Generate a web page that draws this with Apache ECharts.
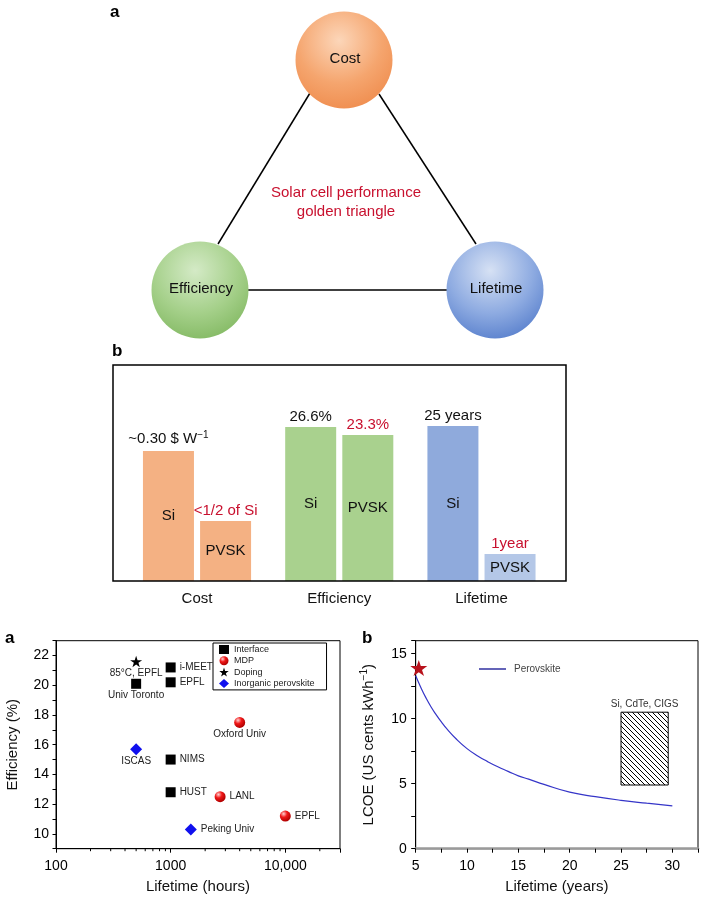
<!DOCTYPE html>
<html><head><meta charset="utf-8">
<script src="https://cdn.jsdelivr.net/npm/echarts@6/dist/echarts.min.js"></script>
<style>html,body{margin:0;padding:0;background:#fff}#c{width:701px;height:898px}</style>
</head><body><div id="c"></div>
<script>
// ---------------- data ----------------
const triangleNodes = ['Cost', 'Efficiency', 'Lifetime'];
const triangleCaption = ['Solar cell performance', 'golden triangle'];

const barCategories = ['Cost', 'Efficiency', 'Lifetime'];
const siHeights = [60.2, 71.3, 71.8];      // relative bar heights (schematic, no value axis)
const pvskHeights = [27.8, 67.6, 12.5];
const siInside = ['Si', 'Si', 'Si'];
const pvskInside = ['PVSK', 'PVSK', 'PVSK'];
const siTopLabels = ['~0.30 $ W{sup|\u22121}', '26.6%', '25 years'];
const pvskTopLabels = ['<1/2 of Si', '23.3%', '1year'];

const interfaceHours = [500, 1000, 1000, 1000, 1000];
const interfaceEff = [20.1, 21.2, 20.2, 15.0, 12.8];
const interfaceNames = ['Univ Toronto', 'i-MEET', 'EPFL', 'NIMS', 'HUST'];
const mdpHours = [4000, 2700, 10000];
const mdpEff = [17.5, 12.5, 11.2];
const mdpNames = ['Oxford Univ', 'LANL', 'EPFL'];
const dopingHours = [500];
const dopingEff = [21.6];
const dopingNames = ['85\u00b0C, EPFL'];
const inorgHours = [500, 1500];
const inorgEff = [15.7, 10.3];
const inorgNames = ['ISCAS', 'Peking Univ'];
const hoursTickLabels = {100: '100', 1000: '1000', 10000: '10,000'};
const hoursMinorTicks = [200, 300, 400, 500, 600, 700, 800, 900, 2000, 3000, 4000, 5000, 6000, 7000, 8000, 9000, 20000];

const lcoeYears = [5, 5.5, 6, 6.5, 7, 7.5, 8, 9, 10, 11, 12, 13, 14, 15, 16, 17.5, 20, 22.5, 25, 27.5, 30];
const lcoeValues = [13.3, 12.4, 11.6, 10.9, 10.3, 9.75, 9.25, 8.4, 7.7, 7.15, 6.7, 6.3, 5.95, 5.6, 5.35, 4.95, 4.35, 4.0, 3.72, 3.5, 3.3];
const starYear = [5.3];
const starLcoe = [13.9];
const incumbentRange = [[25, 29.6, 4.9, 10.5]];   // [yearFrom, yearTo, lcoeLow, lcoeHigh]
const incumbentName = 'Si, CdTe, CIGS';

// ---------------- style ----------------
const FONT = 'Liberation Sans, Arial, sans-serif';
const RED = '#c8102e';
const EFF_MIN = 9, EFF_MAX = 23;
const labelBelow = ['Univ Toronto', 'Oxford Univ', '85\u00b0C, EPFL', 'ISCAS'];
const siColors = ['#f4b183', '#a9d18e', '#8faadc'];
const pvskColors = ['#f4b183', '#a9d18e', '#b4c7e7'];
const STAR = 'path://M50,0L61.2,34.5L97.6,34.5L68.2,55.9L79.4,90.5L50,69.1L20.6,90.5L31.8,55.9L2.4,34.5L38.8,34.5Z';

const cv = document.createElement('canvas');
cv.width = 10; cv.height = 10;
const cx = cv.getContext('2d');
cx.strokeStyle = '#000'; cx.lineWidth = 1;
[-10, -5, 0, 5, 10].forEach(k => { cx.beginPath(); cx.moveTo(0, k); cx.lineTo(10, k + 10); cx.stroke(); });
const hatch = {image: cv, repeat: 'repeat'};

function pts(h, e, n) {
  return h.map((v, i) => ({
    value: [v, e[i], n[i]],
    label: labelBelow.includes(n[i]) ? {position: 'bottom', distance: 1} : {position: 'right', distance: 4}
  }));
}
const scatterLabel = {show: true, formatter: p => p.value[2], fontSize: 10, color: '#222', fontFamily: FONT};

function rg(c0, c1, c2) {
  return new echarts.graphic.RadialGradient(0.45, 0.3, 0.8, [
    {offset: 0, color: c0}, {offset: 0.55, color: c1}, {offset: 1, color: c2}]);
}
const nodePos = [[344, 60], [200, 290], [495, 290]];
const nodeFill = [rg('#fcd6b9', '#f5a56e', '#ee8848'), rg('#d4eac6', '#a5d08a', '#7db55c'), rg('#d6e1f4', '#8eabe1', '#4f78c9')];

const graphics = [
  {type: 'line', shape: {x1: 310, y1: 93, x2: 218, y2: 244}, style: {stroke: '#000', lineWidth: 1.5}, z: 1},
  {type: 'line', shape: {x1: 379, y1: 94, x2: 476, y2: 244}, style: {stroke: '#000', lineWidth: 1.5}, z: 1},
  {type: 'line', shape: {x1: 248, y1: 290, x2: 448, y2: 290}, style: {stroke: '#000', lineWidth: 1.5}, z: 1},
  {type: 'text', x: 346, y: 193, z: 5, style: {text: triangleCaption[0], font: '15px ' + FONT, fill: RED, align: 'center', verticalAlign: 'middle'}},
  {type: 'text', x: 346, y: 212, z: 5, style: {text: triangleCaption[1], font: '15px ' + FONT, fill: RED, align: 'center', verticalAlign: 'middle'}},
  {type: 'rect', shape: {x: 113, y: 365, width: 453, height: 216}, style: {fill: 'none', stroke: '#000', lineWidth: 1.5}, z: 5},
  {type: 'text', x: 110, y: 4, style: {text: 'a', font: 'bold 17px ' + FONT, fill: '#000'}},
  {type: 'text', x: 112, y: 343, style: {text: 'b', font: 'bold 17px ' + FONT, fill: '#000'}},
  {type: 'text', x: 5, y: 630, style: {text: 'a', font: 'bold 17px ' + FONT, fill: '#000'}},
  {type: 'text', x: 362, y: 630, style: {text: 'b', font: 'bold 17px ' + FONT, fill: '#000'}}
];
triangleNodes.forEach((n, i) => {
  graphics.push({type: 'circle', shape: {cx: nodePos[i][0], cy: nodePos[i][1], r: 48.5}, style: {fill: nodeFill[i]}, z: 3});
  graphics.push({type: 'text', x: nodePos[i][0] + 1, y: nodePos[i][1] - 1, z: 4,
    style: {text: n, font: '15px ' + FONT, fill: '#111', align: 'center', verticalAlign: 'middle'}});
});

const chart = echarts.init(document.getElementById('c'));
chart.setOption({
  animation: false,
  textStyle: {fontFamily: FONT},
  graphic: {elements: graphics},
  grid: [
    {left: 125.9, right: 148.4, top: 365, bottom: 317},
    {left: 56, right: 361, top: 640.7, bottom: 49.3, show: true, borderColor: '#000', borderWidth: 1},
    {left: 415.7, right: 2.7, top: 640.7, bottom: 49.3, show: true, borderColor: '#000', borderWidth: 1}
  ],
  legend: [
    {data: ['Interface', 'MDP', 'Doping', 'Inorganic perovskite'], orient: 'vertical', left: 213, top: 643,
     borderColor: '#000', borderWidth: 1, padding: [2, 12, 2, 6], itemWidth: 10, itemHeight: 9, itemGap: 2.3,
     textStyle: {fontSize: 9, color: '#222', fontFamily: FONT}},
    {data: [{name: 'Perovskite', icon: 'rect'}], left: 479, top: 664, itemWidth: 27, itemHeight: 1.4, padding: 0,
     itemStyle: {color: '#22229a'},
     textStyle: {fontSize: 10, color: '#444', fontFamily: FONT, padding: [0, 0, 0, 3]}}
  ],
  xAxis: [
    {type: 'category', gridIndex: 0, data: barCategories, axisLine: {show: false}, axisTick: {show: false},
     axisLabel: {fontSize: 15, color: '#111', margin: 10}},
    {type: 'category', gridIndex: 0, data: barCategories, show: false},
    {type: 'log', gridIndex: 1, min: 100, max: 30000, logBase: 10,
     axisLine: {lineStyle: {color: '#000', width: 1}}, axisTick: {length: 4, lineStyle: {color: '#000'}},
     splitLine: {show: false},
     axisLabel: {formatter: v => hoursTickLabels[Math.round(v)] || '', fontSize: 14, color: '#000', margin: 10},
     name: 'Lifetime (hours)', nameLocation: 'middle', nameGap: 31, nameTextStyle: {fontSize: 15, color: '#111'}},
    {type: 'value', gridIndex: 2, min: 5, max: 32.5, interval: 2.5,
     axisLine: {lineStyle: {color: '#9a9a9a', width: 2.5}}, axisTick: {length: 4, lineStyle: {color: '#000'}},
     splitLine: {show: false},
     axisLabel: {formatter: v => (v % 5 === 0 && v <= 30) ? String(v) : '', fontSize: 14, color: '#000', margin: 10},
     name: 'Lifetime (years)', nameLocation: 'middle', nameGap: 31, nameTextStyle: {fontSize: 15, color: '#111'}}
  ],
  yAxis: [
    {type: 'value', gridIndex: 0, min: 0, max: 100, show: false},
    {type: 'value', gridIndex: 1, min: EFF_MIN, max: EFF_MAX, interval: 1,
     axisLine: {show: true, lineStyle: {color: '#000'}}, axisTick: {show: true, length: 3.5, lineStyle: {color: '#000'}},
     splitLine: {show: false},
     axisLabel: {formatter: v => v % 2 === 0 ? String(v) : '', fontSize: 14, color: '#000', margin: 7},
     name: 'Efficiency (%)', nameLocation: 'middle', nameGap: 36, nameTextStyle: {fontSize: 15, color: '#111'}},
    {type: 'value', gridIndex: 2, min: 0, max: 16, interval: 2.5,
     axisLine: {show: true, lineStyle: {color: '#000'}}, axisTick: {show: true, length: 4.5, lineStyle: {color: '#000'}},
     splitLine: {show: false},
     axisLabel: {formatter: v => (v % 5 === 0 && v <= 15) ? String(v) : '', fontSize: 14, color: '#000', margin: 9},
     name: 'LCOE (US cents kWh{sup|\u22121})', nameLocation: 'middle', nameGap: 38,
     nameTextStyle: {fontSize: 15, color: '#111', rich: {sup: {fontSize: 10, color: '#111', padding: [0, 0, 8, 0]}}}}
  ],
  series: [
    {type: 'bar', name: 'Si', xAxisIndex: 0, yAxisIndex: 0, barWidth: 51, barGap: '12%', silent: true,
     data: siHeights.map((v, i) => ({value: v, itemStyle: {color: siColors[i]}})),
     label: {show: true, position: 'inside', formatter: p => siInside[p.dataIndex], fontSize: 15, color: '#111'}},
    {type: 'bar', name: 'PVSK', xAxisIndex: 0, yAxisIndex: 0, barWidth: 51, barGap: '12%', silent: true,
     data: pvskHeights.map((v, i) => ({value: v, itemStyle: {color: pvskColors[i]}})),
     label: {show: true, position: 'inside', formatter: p => pvskInside[p.dataIndex], fontSize: 15, color: '#111'}},
    {type: 'bar', name: 'SiTop', xAxisIndex: 1, yAxisIndex: 0, barWidth: 51, barGap: '12%', silent: true,
     data: siHeights, itemStyle: {color: 'rgba(0,0,0,0)'},
     label: {show: true, position: 'top', distance: 3, formatter: p => siTopLabels[p.dataIndex], fontSize: 15, color: '#111',
       rich: {sup: {fontSize: 10, color: '#111', padding: [0, 0, 8, 0]}}}},
    {type: 'bar', name: 'PVSKTop', xAxisIndex: 1, yAxisIndex: 0, barWidth: 51, barGap: '12%', silent: true,
     data: pvskHeights, itemStyle: {color: 'rgba(0,0,0,0)'},
     label: {show: true, position: 'top', distance: 3, formatter: p => pvskTopLabels[p.dataIndex], fontSize: 15, color: RED}},

    {type: 'custom', name: 'minorTicks', xAxisIndex: 2, yAxisIndex: 1, data: hoursMinorTicks.map(v => [v]), silent: true,
     renderItem: (params, api) => {
       const p = api.coord([api.value(0), EFF_MIN]);
       return {type: 'line', shape: {x1: p[0], y1: p[1], x2: p[0], y2: p[1] + 2.5}, style: {stroke: '#000', lineWidth: 1}};
     }},
    {type: 'scatter', name: 'Interface', xAxisIndex: 2, yAxisIndex: 1, symbol: 'rect', symbolSize: 10,
     itemStyle: {color: '#000', opacity: 1}, data: pts(interfaceHours, interfaceEff, interfaceNames), label: scatterLabel},
    {type: 'scatter', name: 'MDP', xAxisIndex: 2, yAxisIndex: 1, symbol: 'circle', symbolSize: 11,
     itemStyle: {opacity: 1, color: new echarts.graphic.RadialGradient(0.35, 0.3, 0.7, [{offset: 0, color: '#ffd0d0'}, {offset: 0.45, color: '#f01818'}, {offset: 1, color: '#b00000'}])},
     data: pts(mdpHours, mdpEff, mdpNames), label: scatterLabel},
    {type: 'scatter', name: 'Doping', xAxisIndex: 2, yAxisIndex: 1, symbol: STAR, symbolSize: 12, symbolKeepAspect: true,
     itemStyle: {color: '#000', opacity: 1}, data: pts(dopingHours, dopingEff, dopingNames), label: scatterLabel},
    {type: 'scatter', name: 'Inorganic perovskite', xAxisIndex: 2, yAxisIndex: 1, symbol: 'diamond', symbolSize: 12,
     itemStyle: {color: '#1010ee', opacity: 1}, data: pts(inorgHours, inorgEff, inorgNames), label: scatterLabel},

    {type: 'line', name: 'Perovskite', xAxisIndex: 3, yAxisIndex: 2, smooth: true, symbol: 'none',
     lineStyle: {color: '#3535c8', width: 1.2}, itemStyle: {color: '#3535c8'},
     data: lcoeYears.map((x, i) => [x, lcoeValues[i]])},
    {type: 'scatter', name: 'marker', xAxisIndex: 3, yAxisIndex: 2, symbol: STAR, symbolSize: 17, symbolKeepAspect: true,
     itemStyle: {color: '#b8121c', opacity: 1}, data: starYear.map((x, i) => [x, starLcoe[i]]), z: 5},
    {type: 'custom', name: 'incumbent', xAxisIndex: 3, yAxisIndex: 2, data: incumbentRange, silent: true,
     renderItem: (params, api) => {
       const p0 = api.coord([api.value(0), api.value(3)]);
       const p1 = api.coord([api.value(1), api.value(2)]);
       return {type: 'group', children: [
         {type: 'rect', shape: {x: p0[0], y: p0[1], width: p1[0] - p0[0], height: p1[1] - p0[1]},
          style: {fill: hatch, stroke: '#000', lineWidth: 1}},
         {type: 'text', style: {text: incumbentName, x: (p0[0] + p1[0]) / 2, y: p0[1] - 3, align: 'center', verticalAlign: 'bottom',
          fontSize: 10, fontFamily: FONT, fill: '#333'}}
       ]};
     }}
  ]
});
</script></body></html>
